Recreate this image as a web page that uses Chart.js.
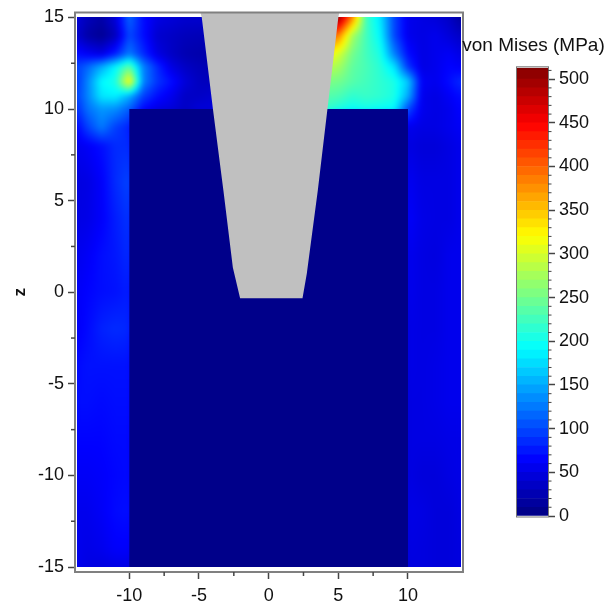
<!DOCTYPE html>
<html>
<head>
<meta charset="utf-8">
<script src="https://cdn.jsdelivr.net/npm/chart.js@4"></script>
<style>
  html, body { margin: 0; padding: 0; background: #fff; width: 607px; height: 602px; overflow: hidden; }
  canvas { position: absolute; filter: blur(0.4px); }
  #mainChart { left: 0; top: 0; }
  #barChart { left: 460px; top: 30px; }
</style>
</head>
<body>
<canvas id="mainChart" width="466" height="602"></canvas>
<canvas id="barChart" width="147" height="500"></canvas>
<script>
// Stress field (MPa), rows follow heatZ, columns follow heatX
const heatX = [-13.75, -13, -12, -11, -10, -9, -8, -7, -6, -5, -4, 4, 5, 6, 7, 8, 9, 10, 11, 12, 13, 13.8];
const heatZ = [15, 14, 13, 12.3, 11.5, 10.7, 10, 9, 8, 6, 4, 2, 0, -2, -4, -6, -8, -10, -12, -14, -15];
const heatRows = [
  [45, 30, 20, 45, 115, 70, 50, 45, 40, 40, 40, 512, 505, 385, 225, 180, 100, 55, 50, 45, 35, 15],
  [40, 20, 10, 30, 100, 70, 40, 35, 30, 28, 28, 400, 385, 275, 225, 190, 100, 55, 50, 55, 45, 35],
  [70, 60, 50, 80, 125, 85, 50, 35, 25, 22, 22, 330, 300, 250, 225, 205, 130, 70, 50, 55, 60, 50],
  [95, 115, 150, 190, 240, 130, 85, 50, 35, 28, 25, 285, 275, 240, 228, 212, 180, 90, 50, 55, 65, 60],
  [90, 130, 190, 205, 325, 130, 90, 70, 45, 32, 30, 255, 250, 235, 225, 215, 205, 165, 60, 55, 70, 85],
  [95, 130, 180, 185, 150, 95, 70, 55, 35, 35, 40, 235, 230, 215, 220, 215, 205, 150, 55, 50, 60, 70],
  [85, 120, 140, 135, 110, 65, 50, 45, 35, 45, 45, 220, 205, 195, 200, 195, 190, 100, 55, 50, 55, 65],
  [65, 95, 125, 95, 80, 3, 3, 3, 3, 3, 3, 3, 3, 3, 3, 3, 3, 55, 50, 50, 55, 60],
  [55, 60, 70, 85, 85, 3, 3, 3, 3, 3, 3, 3, 3, 3, 3, 3, 3, 50, 45, 45, 50, 55],
  [48, 50, 62, 85, 98, 3, 3, 3, 3, 3, 3, 3, 3, 3, 3, 3, 3, 58, 50, 50, 50, 55],
  [50, 52, 62, 78, 90, 3, 3, 3, 3, 3, 3, 3, 3, 3, 3, 3, 3, 62, 52, 50, 50, 55],
  [55, 60, 70, 75, 85, 3, 3, 3, 3, 3, 3, 3, 3, 3, 3, 3, 3, 56, 50, 48, 55, 55],
  [60, 65, 70, 72, 78, 3, 3, 3, 3, 3, 3, 3, 3, 3, 3, 3, 3, 55, 50, 50, 55, 55],
  [60, 68, 80, 85, 82, 3, 3, 3, 3, 3, 3, 3, 3, 3, 3, 3, 3, 52, 50, 50, 55, 55],
  [68, 72, 72, 72, 72, 3, 3, 3, 3, 3, 3, 3, 3, 3, 3, 3, 3, 52, 50, 52, 55, 55],
  [70, 70, 68, 70, 70, 3, 3, 3, 3, 3, 3, 3, 3, 3, 3, 3, 3, 50, 50, 52, 55, 55],
  [65, 65, 65, 68, 68, 3, 3, 3, 3, 3, 3, 3, 3, 3, 3, 3, 3, 50, 50, 50, 52, 52],
  [60, 60, 62, 66, 68, 3, 3, 3, 3, 3, 3, 3, 3, 3, 3, 3, 3, 50, 46, 46, 50, 52],
  [55, 55, 60, 68, 70, 3, 3, 3, 3, 3, 3, 3, 3, 3, 3, 3, 3, 52, 50, 46, 46, 50],
  [55, 52, 55, 62, 62, 3, 3, 3, 3, 3, 3, 3, 3, 3, 3, 3, 3, 50, 48, 46, 46, 48],
  [55, 50, 48, 50, 50, 3, 3, 3, 3, 3, 3, 3, 3, 3, 3, 3, 3, 48, 48, 46, 46, 48]
];

// Grey indenter outline and the low stress block
const shankX = [-4.9, -4.8, -4.0, -3.25, -2.57, -2.05, 2.43, 2.74, 3.53, 4.22, 5.0, 5.07];
const shankZ = [15.27, 15, 10, 5.57, 1.35, -0.33, -0.33, 1.03, 5.57, 10, 15, 15.27];
const blockX = [-10, -10, 10, 10];
const blockZ = [-15, 10, 10, -15];

// Axis ticks
const xMajorTicks = [-10, -5, 0, 5, 10];
const xMinorTicks = [-7.5, -2.5, 2.5, 7.5];
const zMajorTicks = [-15, -10, -5, 0, 5, 10, 15];
const zMinorTicks = [-12.5, -7.5, -2.5, 2.5, 7.5, 12.5];
const barMajorTicks = [0, 50, 100, 150, 200, 250, 300, 350, 400, 450, 500];
const barMinorTicks = [10, 20, 30, 40, 60, 70, 80, 90, 110, 120, 130, 140, 160, 170, 180, 190, 210, 220, 230, 240,
  260, 270, 280, 290, 310, 320, 330, 340, 360, 370, 380, 390, 410, 420, 430, 440, 460, 470, 480, 490, 510];

// Colour bar, one band every 10 MPa up to the 513 maximum
const bandStarts = [0, 10, 20, 30, 40, 50, 60, 70, 80, 90, 100, 110, 120, 130, 140, 150, 160, 170, 180, 190,
  200, 210, 220, 230, 240, 250, 260, 270, 280, 290, 300, 310, 320, 330, 340, 350, 360, 370, 380, 390,
  400, 410, 420, 430, 440, 450, 460, 470, 480, 490, 500, 510];
const barMax = 513;

const FONT = 'Liberation Sans, Arial, sans-serif';
const TICK_COLOR = '#111';

function jet(v) {
  const stops = [[0, 0, 0, 128], [64, 0, 0, 255], [192, 0, 255, 255], [320, 255, 255, 0], [448, 255, 0, 0], [513, 128, 0, 0]];
  for (let i = 1; i < stops.length; i++) {
    if (v <= stops[i][0]) {
      const a = stops[i - 1], b = stops[i];
      const t = (v - a[0]) / (b[0] - a[0]);
      return [0, 1, 2].map(k => Math.round(a[k + 1] + (b[k + 1] - a[k + 1]) * t));
    }
  }
  return [128, 0, 0];
}

function bracket(list, v, descending) {
  let i = 0;
  while (i < list.length - 2 && (descending ? v < list[i + 1] : v > list[i + 1])) i++;
  const t = (v - list[i]) / (list[i + 1] - list[i]);
  return [i, Math.max(0, Math.min(1, t))];
}

function sampleField(x, z) {
  const [i, tx] = bracket(heatX, x, false);
  const [j, tz] = bracket(heatZ, z, true);
  const top = heatRows[j][i] * (1 - tx) + heatRows[j][i + 1] * tx;
  const low = heatRows[j + 1][i] * (1 - tx) + heatRows[j + 1][i + 1] * tx;
  return top * (1 - tz) + low * tz;
}

// Paints the field under the datasets, every pixel looked up through the chart scales
const heatPlugin = {
  id: 'heat',
  beforeDatasetsDraw(chart) {
    const { ctx, scales: { x, y } } = chart;
    const x0 = Math.round(x.getPixelForValue(heatX[0]));
    const x1 = Math.round(x.getPixelForValue(heatX[heatX.length - 1]));
    const y0 = Math.round(y.getPixelForValue(heatZ[0]));
    const y1 = Math.round(y.getPixelForValue(heatZ[heatZ.length - 1]));
    const off = document.createElement('canvas');
    off.width = x1 - x0;
    off.height = y1 - y0;
    const octx = off.getContext('2d');
    const img = octx.createImageData(off.width, off.height);
    for (let py = 0; py < off.height; py++) {
      const z = y.getValueForPixel(y0 + py + 0.5);
      for (let px = 0; px < off.width; px++) {
        const v = sampleField(x.getValueForPixel(x0 + px + 0.5), z);
        const c = jet(v);
        const n = (py * off.width + px) * 4;
        img.data[n] = c[0];
        img.data[n + 1] = c[1];
        img.data[n + 2] = c[2];
        img.data[n + 3] = 255;
      }
    }
    octx.putImageData(img, 0, 0);
    ctx.save();
    ctx.beginPath();
    ctx.rect(x0, y0, off.width, off.height);
    ctx.clip();
    ctx.drawImage(off, x0, y0);
    ctx.filter = 'blur(2.5px)';
    ctx.drawImage(off, x0, y0);
    ctx.restore();
  }
};

function minorTick(ctx, scale, value, length, side) {
  const p = scale.getPixelForValue(value);
  ctx.beginPath();
  if (side === 'bottom') {
    ctx.moveTo(p, scale.top);
    ctx.lineTo(p, scale.top + length);
  } else if (side === 'left') {
    ctx.moveTo(scale.right, p);
    ctx.lineTo(scale.right - length, p);
  } else {
    ctx.moveTo(scale.left, p);
    ctx.lineTo(scale.left + length, p);
  }
  ctx.stroke();
}

const framePlugin = {
  id: 'frame',
  afterDraw(chart) {
    const { ctx, chartArea: a, scales: { x, y } } = chart;
    ctx.save();
    ctx.strokeStyle = '#808080';
    ctx.lineWidth = 2;
    ctx.strokeRect(a.left, a.top, a.right - a.left, a.bottom - a.top);
    ctx.strokeStyle = '#444';
    ctx.lineWidth = 1.5;
    xMinorTicks.forEach(v => minorTick(ctx, x, v, 4, 'bottom'));
    zMinorTicks.forEach(v => minorTick(ctx, y, v, 4, 'left'));
    ctx.restore();
  }
};

const barFramePlugin = {
  id: 'barFrame',
  afterDraw(chart) {
    const { ctx, chartArea: a, scales: { y } } = chart;
    ctx.save();
    ctx.strokeStyle = '#777';
    ctx.lineWidth = 1;
    ctx.strokeRect(a.left - 0.5, a.top - 1, a.right - a.left + 1, a.bottom - a.top + 2);
    ctx.strokeStyle = '#444';
    barMinorTicks.forEach(v => minorTick(ctx, y, v, 3.5, 'right'));
    ctx.restore();
  }
};

new Chart(document.getElementById('mainChart'), {
  type: 'scatter',
  data: {
    datasets: [
      {
        label: 'indenter',
        data: shankX.map((x, i) => ({ x, y: shankZ[i] })),
        showLine: true,
        fill: 'shape',
        backgroundColor: '#c0c0c0',
        borderWidth: 0,
        pointRadius: 0
      },
      {
        label: 'block',
        data: blockX.map((x, i) => ({ x, y: blockZ[i] })),
        showLine: true,
        fill: 'shape',
        backgroundColor: '#00008a',
        borderWidth: 0,
        pointRadius: 0
      }
    ]
  },
  options: {
    responsive: false,
    animation: false,
    layout: { padding: { top: 12.5, right: 3, bottom: 0, left: 0 } },
    plugins: { legend: { display: false }, title: { display: false }, tooltip: { enabled: false } },
    scales: {
      x: {
        type: 'linear',
        min: -13.9,
        max: 13.95,
        afterBuildTicks: scale => { scale.ticks = xMajorTicks.map(value => ({ value })); },
        afterFit: scale => { scale.height = 30; scale.paddingLeft = 0; scale.paddingRight = 0; },
        ticks: { autoSkip: false, maxRotation: 0, color: TICK_COLOR, padding: 6, font: { family: FONT, size: 18 } },
        grid: { drawOnChartArea: false, tickLength: 7, tickColor: '#444', tickWidth: 1.5 },
        border: { color: '#808080', width: 2 }
      },
      y: {
        type: 'linear',
        min: -15.27,
        max: 15.27,
        afterBuildTicks: scale => { scale.ticks = zMajorTicks.map(value => ({ value })); },
        afterFit: scale => { scale.width = 75; scale.paddingTop = 0; scale.paddingBottom = 0; },
        ticks: { autoSkip: false, color: TICK_COLOR, padding: 4, font: { family: FONT, size: 18 } },
        grid: { drawOnChartArea: false, tickLength: 7, tickColor: '#444', tickWidth: 1.5 },
        border: { color: '#808080', width: 2 },
        title: { display: true, text: 'z', color: TICK_COLOR, padding: { top: 10, bottom: 0 }, font: { family: FONT, size: 17, weight: 'bold' } }
      }
    }
  },
  plugins: [heatPlugin, framePlugin]
});

new Chart(document.getElementById('barChart'), {
  type: 'bar',
  data: {
    labels: ['MPa'],
    datasets: bandStarts.map(start => {
      const top = Math.min(start + 10, barMax);
      const c = jet(start + 5);
      return {
        data: [[start, top]],
        backgroundColor: `rgb(${c[0]},${c[1]},${c[2]})`,
        borderWidth: 0,
        grouped: false,
        barPercentage: 1,
        categoryPercentage: 1
      };
    })
  },
  options: {
    responsive: false,
    animation: false,
    layout: { padding: { left: 0, right: 0, top: 0, bottom: 14 } },
    plugins: {
      legend: { display: false },
      tooltip: { enabled: false },
      title: {
        display: true,
        text: 'von Mises (MPa)',
        color: TICK_COLOR,
        font: { family: FONT, size: 19, weight: 'normal' },
        padding: { top: 4, bottom: 11 }
      }
    },
    scales: {
      x: { display: false },
      y: {
        position: 'right',
        min: 0,
        max: barMax,
        afterBuildTicks: scale => { scale.ticks = barMajorTicks.map(value => ({ value })); },
        afterFit: scale => { scale.width = 59; scale.paddingTop = 0; scale.paddingBottom = 0; },
        ticks: { autoSkip: false, color: TICK_COLOR, padding: 4, font: { family: FONT, size: 18 } },
        grid: { drawOnChartArea: false, tickLength: 7, tickColor: '#444', tickWidth: 1.5 },
        border: { color: '#555', width: 1 }
      },
      // empty axis on the left, only there to push the bar away from the canvas edge
      spacer: {
        position: 'left',
        min: 0,
        max: 1,
        afterFit: scale => { scale.width = 57; scale.paddingTop = 0; scale.paddingBottom = 0; },
        ticks: { display: false },
        grid: { display: false },
        border: { display: false }
      }
    }
  },
  plugins: [barFramePlugin]
});
</script>
</body>
</html>
